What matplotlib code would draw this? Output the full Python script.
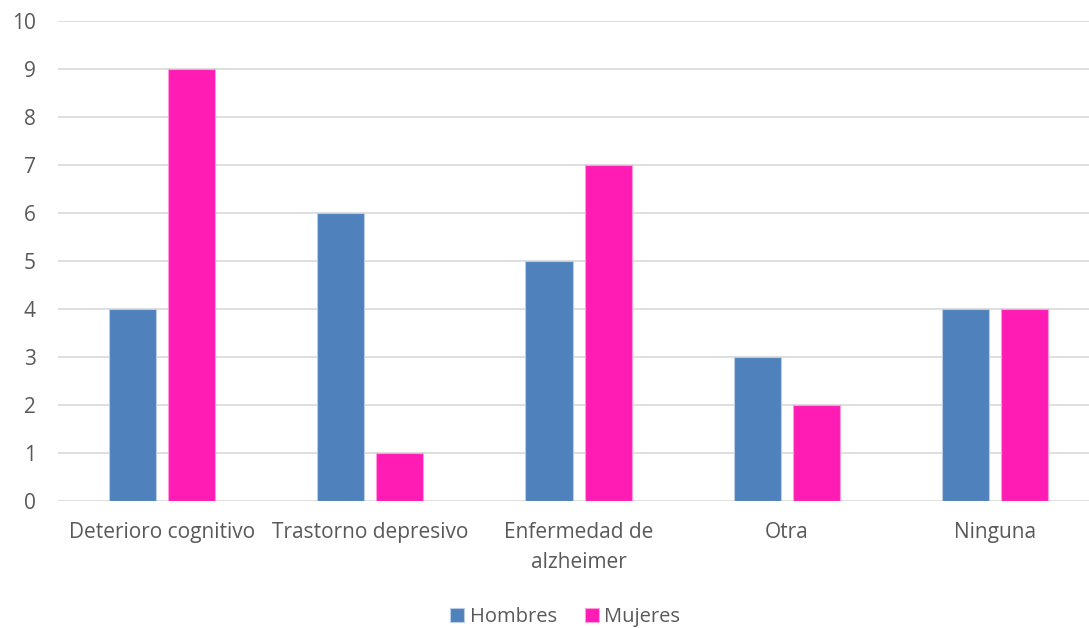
import numpy as np
import matplotlib.pyplot as plt

categorias = ["Deterioro cognitivo", "Trastorno depresivo", "Enfermedad de\nalzheimer", "Otra", "Ninguna"]
hombres = [4, 6, 5, 3, 4]
mujeres = [9, 1, 7, 2, 4]

plt.rcParams['font.family'] = ['Open Sans', 'DejaVu Sans']

fig = plt.figure(figsize=(10.89, 6.28), dpi=100)
ax = fig.add_axes([0.0533, 0.2022, 0.956, 0.7644])

x = np.arange(len(categorias))
w = 0.226
off = 0.142
ax.bar(x - off, hombres, w, color="#4F81BD", edgecolor="#B9CDE5", linewidth=0.8, label="Hombres", zorder=3)
ax.bar(x + off, mujeres, w, color="#FF1CB4", edgecolor="#FF9ADB", linewidth=0.8, label="Mujeres", zorder=3)

ax.set_xlim(-0.5, len(categorias) - 0.5)
ax.set_ylim(0, 10)
ax.set_yticks(range(0, 11))
ax.yaxis.grid(True, color="#D9D9D9", linewidth=1.2, zorder=0)
ax.set_xticks(x)
ax.set_xticklabels(categorias, linespacing=1.55)
ax.tick_params(axis="both", length=0, labelsize=15, labelcolor="#595959")
ax.tick_params(axis="x", pad=15)
ax.tick_params(axis="y", pad=16)
for s in ax.spines.values():
    s.set_visible(False)

leg = fig.legend(loc="center", bbox_to_anchor=(0.519, 0.018), ncol=2, frameon=False,
                 fontsize=14.5, handlelength=0.7, handleheight=0.7, handletextpad=0.25,
                 columnspacing=1.4, labelcolor="#595959")

fig.savefig("out.png", dpi=100)
